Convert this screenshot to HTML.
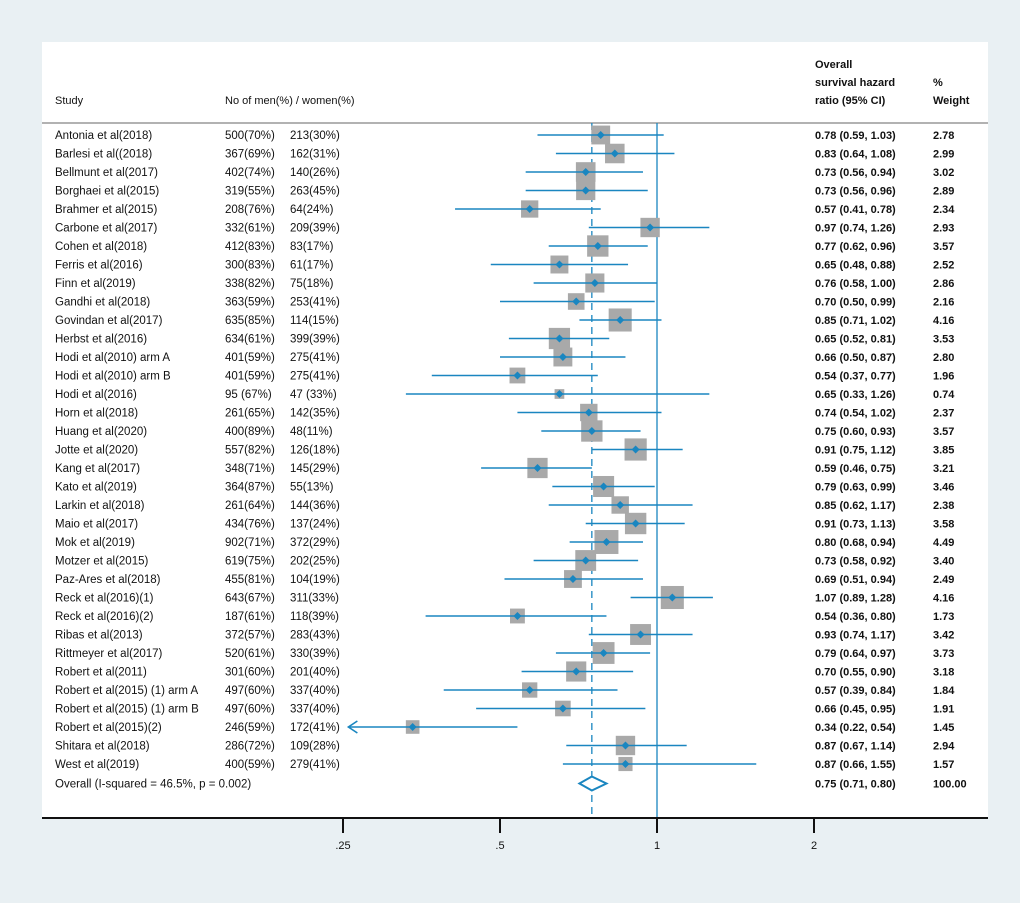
<!DOCTYPE html>
<html><head><meta charset="utf-8"><style>
html,body{margin:0;padding:0;background:#e9f0f3;}
svg{display:block;font-family:"Liberation Sans",Arial,sans-serif;}
</style></head><body>
<svg id="chart" width="1020" height="903" viewBox="0 0 1020 903" xmlns="http://www.w3.org/2000/svg">
<rect x="0" y="0" width="1020" height="903" fill="#e9f0f3"/>
<rect x="42" y="42" width="946" height="776" fill="#ffffff"/>
<g id="hdr" font-size="11" fill="#111">
<text x="55" y="104">Study</text>
<text x="225" y="104">No of men(%) / women(%)</text>
<text x="815" y="68" font-weight="bold">Overall</text>
<text x="815" y="86" font-weight="bold">survival hazard</text>
<text x="815" y="104" font-weight="bold">ratio (95% CI)</text>
<text x="933" y="86" font-weight="bold">%</text>
<text x="933" y="104" font-weight="bold">Weight</text>
</g>
<line x1="42" y1="123" x2="988" y2="123" stroke="#999" stroke-width="1.5"/>
<g id="marks"></g>
</svg>
<script>
const studies=["Antonia et al(2018)","Barlesi et al((2018)","Bellmunt et al(2017)","Borghaei et al(2015)","Brahmer et al(2015)","Carbone et al(2017)","Cohen et al(2018)","Ferris et al(2016)","Finn et al(2019)","Gandhi et al(2018)","Govindan et al(2017)","Herbst et al(2016)","Hodi et al(2010) arm A","Hodi et al(2010) arm B","Hodi et al(2016)","Horn et al(2018)","Huang et al(2020)","Jotte et al(2020)","Kang et al(2017)","Kato et al(2019)","Larkin et al(2018)","Maio et al(2017)","Mok et al(2019)","Motzer et al(2015)","Paz-Ares et al(2018)","Reck et al(2016)(1)","Reck et al(2016)(2)","Ribas et al(2013)","Rittmeyer et al(2017)","Robert et al(2011)","Robert et al(2015) (1) arm A","Robert et al(2015) (1) arm B","Robert et al(2015)(2)","Shitara et al(2018)","West et al(2019)"];
const men=["500(70%)","367(69%)","402(74%)","319(55%)","208(76%)","332(61%)","412(83%)","300(83%)","338(82%)","363(59%)","635(85%)","634(61%)","401(59%)","401(59%)","95 (67%)","261(65%)","400(89%)","557(82%)","348(71%)","364(87%)","261(64%)","434(76%)","902(71%)","619(75%)","455(81%)","643(67%)","187(61%)","372(57%)","520(61%)","301(60%)","497(60%)","497(60%)","246(59%)","286(72%)","400(59%)"];
const women=["213(30%)","162(31%)","140(26%)","263(45%)","64(24%)","209(39%)","83(17%)","61(17%)","75(18%)","253(41%)","114(15%)","399(39%)","275(41%)","275(41%)","47 (33%)","142(35%)","48(11%)","126(18%)","145(29%)","55(13%)","144(36%)","137(24%)","372(29%)","202(25%)","104(19%)","311(33%)","118(39%)","283(43%)","330(39%)","201(40%)","337(40%)","337(40%)","172(41%)","109(28%)","279(41%)"];
const hr=[0.78,0.83,0.73,0.73,0.57,0.97,0.77,0.65,0.76,0.70,0.85,0.65,0.66,0.54,0.65,0.74,0.75,0.91,0.59,0.79,0.85,0.91,0.80,0.73,0.69,1.07,0.54,0.93,0.79,0.70,0.57,0.66,0.34,0.87,0.87];
const lo=[0.59,0.64,0.56,0.56,0.41,0.74,0.62,0.48,0.58,0.50,0.71,0.52,0.50,0.37,0.33,0.54,0.60,0.75,0.46,0.63,0.62,0.73,0.68,0.58,0.51,0.89,0.36,0.74,0.64,0.55,0.39,0.45,0.22,0.67,0.66];
const hi=[1.03,1.08,0.94,0.96,0.78,1.26,0.96,0.88,1.00,0.99,1.02,0.81,0.87,0.77,1.26,1.02,0.93,1.12,0.75,0.99,1.17,1.13,0.94,0.92,0.94,1.28,0.80,1.17,0.97,0.90,0.84,0.95,0.54,1.14,1.55];
const weight=["2.78","2.99","3.02","2.89","2.34","2.93","3.57","2.52","2.86","2.16","4.16","3.53","2.80","1.96","0.74","2.37","3.57","3.85","3.21","3.46","2.38","3.58","4.49","3.40","2.49","4.16","1.73","3.42","3.73","3.18","1.84","1.91","1.45","2.94","1.57"];
const overall=[0.75,0.71,0.80];
const tickVals=[0.25,0.5,1,2];
const tickLabels=[".25",".5","1","2"];

const NS="http://www.w3.org/2000/svg";
const g=document.getElementById('marks');
const X=v=>657+157*Math.log2(v);
const Y=i=>135+18.5*i;
const xMin=0.256;
function mk(t,a,p){const e=document.createElementNS(NS,t);for(const k in a)e.setAttribute(k,a[k]);(p||g).appendChild(e);return e;}
const f=n=>n.toFixed(2);
let l=mk('line',{x1:657,y1:123,x2:657,y2:818,stroke:'#1a86c0','stroke-width':1.3});


l=mk('line',{x1:X(overall[0]),y1:123,x2:X(overall[0]),y2:818,stroke:'#1a86c0','stroke-width':1.3,'stroke-dasharray':'7,5'});


studies.forEach((s,i)=>{
  const y=Y(i);
  let t=mk('text',{x:55,y:y+4,'font-size':11.5,fill:'#111'});t.textContent=s;
  
  
  t=mk('text',{x:225,y:y+4,'font-size':11.5,fill:'#111'});t.textContent=men[i];
  
  
  t=mk('text',{x:290,y:y+4,'font-size':11.5,fill:'#111'});t.textContent=women[i];
  
  
  t=mk('text',{x:815,y:y+4,'font-size':11,'font-weight':'bold',fill:'#111'});t.textContent=f(hr[i])+' ('+f(lo[i])+', '+f(hi[i])+')';
  
  
  t=mk('text',{x:933,y:y+4,'font-size':11,'font-weight':'bold',fill:'#111'});t.textContent=weight[i];
  
  
  const sz=11.3*Math.sqrt(parseFloat(weight[i]));
  const b=mk('rect',{x:X(hr[i])-sz/2,y:y-sz/2,width:sz,height:sz,fill:'#a9a9a9'});
  
  
  const clipped=lo[i]<xMin;
  const x1=clipped?X(xMin):X(lo[i]);
  const c=mk('line',{x1:x1,y1:y,x2:X(hi[i]),y2:y,stroke:'#1a86c0','stroke-width':1.6});
  
  
  if(clipped){const a=mk('path',{d:`M${x1+9},${y-6} L${x1},${y} L${x1+9},${y+6}`,fill:'none',stroke:'#1a86c0','stroke-width':1.6});
    
    }
  const d=mk('path',{d:`M${X(hr[i])-4},${y} L${X(hr[i])},${y-4} L${X(hr[i])+4},${y} L${X(hr[i])},${y+4}Z`,fill:'#1a86c0'});
  
  
});
const oy=Y(studies.length)+1;
let t=mk('text',{x:55,y:oy+4,'font-size':11.5,fill:'#111'});t.textContent='Overall  (I-squared = 46.5%, p = 0.002)';


t=mk('text',{x:815,y:oy+4,'font-size':11,'font-weight':'bold',fill:'#111'});t.textContent=f(overall[0])+' ('+f(overall[1])+', '+f(overall[2])+')';


t=mk('text',{x:933,y:oy+4,'font-size':11,'font-weight':'bold',fill:'#111'});t.textContent='100.00';


const od=mk('path',{d:`M${X(overall[1])},${oy} L${X(overall[0])},${oy-7} L${X(overall[2])},${oy} L${X(overall[0])},${oy+7}Z`,fill:'#fff',stroke:'#1a86c0','stroke-width':2});


const ax=mk('line',{x1:42,y1:818,x2:988,y2:818,stroke:'#111','stroke-width':2});


tickVals.forEach((v,i)=>{
  const tk=mk('line',{x1:X(v),y1:818,x2:X(v),y2:833,stroke:'#111','stroke-width':2});
  
  
  const tl=mk('text',{x:X(v),y:849,'font-size':11,'text-anchor':'middle',fill:'#111'});tl.textContent=tickLabels[i];
  
  
});
</script>
</body></html>
